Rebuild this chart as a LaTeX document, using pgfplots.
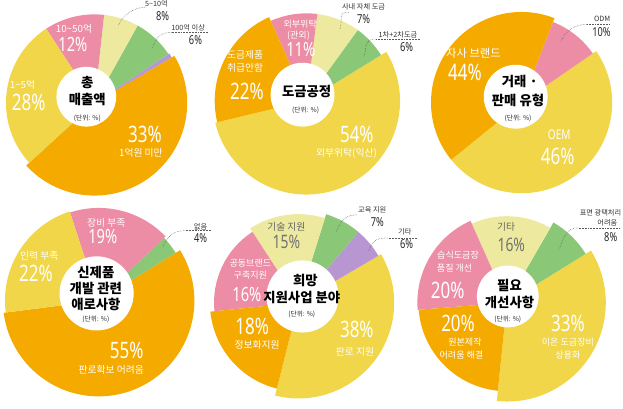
\documentclass[border=0pt]{standalone}
\usepackage{pgfplots}
\pgfplotsset{compat=1.18}
\usepackage{fontspec}
\setmainfont{Noto Sans CJK KR}
\newfontfamily\pf{Noto Sans}[FakeStretch=0.75]
\definecolor{cOr}{RGB}{245,170,0}
\definecolor{cYe}{RGB}{240,214,72}
\definecolor{cPk}{RGB}{236,140,165}
\definecolor{cLy}{RGB}{237,234,160}
\definecolor{cGr}{RGB}{138,200,120}
\definecolor{cPu}{RGB}{183,150,210}
% segment: center x, center y, start angle, end angle, radius, colour
\newcommand{\seg}[6]{\fill[#6] (axis cs:#1,#2) -- ++(#3:#5pt) arc[start angle=#3, end angle=#4, radius=#5pt] -- cycle;}
\newcommand{\hole}[3]{\fill[white] (axis cs:#1,#2) circle[radius=#3pt];}
\newcommand{\lead}[4]{\draw[densely dotted, black!65, line width=0.5pt] (axis cs:#1,#2) .. controls (axis cs:#1-12,#2) and (axis cs:#3+4,#4-10) .. (axis cs:#3,#4);}
\newcommand{\uline}[3]{\draw[densely dotted, black!65, line width=0.5pt] (axis cs:#1,#3) -- (axis cs:#2,#3);}
\begin{document}
\begin{tikzpicture}[
  wl/.style={text=white, inner sep=0pt, font=\fontsize{9.5}{10}\selectfont},
  wm/.style={text=white, inner sep=0pt, font=\fontsize{8.8}{9}\selectfont},
  dl/.style={text=black!80, inner sep=0pt, font=\fontsize{7}{8}\selectfont},
  gl/.style={text=black!60, inner sep=0pt, font=\fontsize{9.5}{10}\selectfont},
  bp/.style={text=white, inner sep=0pt, font=\pf\fontsize{22}{22}\selectfont},
  mp/.style={text=white, inner sep=0pt, font=\pf\fontsize{19}{19}\selectfont},
  gp/.style={text=black!55, inner sep=0pt, font=\pf\fontsize{18}{18}\selectfont},
  sp/.style={text=black!85, inner sep=0pt, font=\pf\bfseries\fontsize{12}{12}\selectfont},
  ct/.style={text=black, inner sep=0pt, font=\bfseries\fontsize{13}{15}\selectfont},
  un/.style={text=black!85, inner sep=0pt, font=\fontsize{6.5}{7}\selectfont}]
\begin{axis}[width=623pt, height=399pt, scale only axis, xmin=0, xmax=623, ymin=0, ymax=399,
  y dir=reverse, hide axis, clip=false]
% ---------- Chart 1: 총 매출액 ----------
\seg{107}{108}{-137.5}{30.5}{90}{cOr}
\seg{107}{108}{30.5}{33.5}{87}{cPu}
\seg{107}{108}{33.5}{60.9}{86}{cGr}
\seg{107}{108}{60.9}{83.8}{86}{cLy}
\seg{107}{108}{83.8}{123.1}{86}{cPk}
\seg{107}{108}{123.1}{222.5}{86}{cYe}
\hole{99}{102}{29}
\node[ct] at (axis cs:100,88) {총};
\node[ct] at (axis cs:100,105) {매출액};
\node[un] at (axis cs:100,123) {(단위: \%)};
\node[wl] at (axis cs:37,90) {1\textasciitilde5억};
\node[bp] at (axis cs:43,108) {28\%};
\node[wl] at (axis cs:87,36) {10\textasciitilde50억};
\node[mp] at (axis cs:86,51) {12\%};
\node[dl] at (axis cs:167,12) {5\textasciitilde10억};
\node[sp] at (axis cs:173,23.5) {8\%};
\lead{157}{15}{130}{33}
\node[dl] at (axis cs:198,35) {100억 이상};
\node[sp] at (axis cs:205,47) {6\%};
\uline{217}{182}{39.5}
\lead{182}{39.5}{163}{55}
\node[bp] at (axis cs:156,138.5) {33\%};
\node[wl] at (axis cs:152,156.5) {1억원 미만};
% ---------- Chart 2: 도금공정 ----------
\seg{312.7}{106}{-166.5}{31.5}{91}{cYe}
\seg{312.7}{106}{31.5}{54.1}{85}{cGr}
\seg{312.7}{106}{54.1}{82.8}{85}{cLy}
\seg{312.7}{106}{82.8}{114}{85}{cPk}
\seg{312.7}{106}{114}{193.5}{89}{cOr}
\hole{309}{100}{31}
\node[ct] at (axis cs:313,97) {도금공정};
\node[un] at (axis cs:312,115) {(단위: \%)};
\node[wm] at (axis cs:306.7,31.2) {외부위탁};
\node[wm] at (axis cs:305,42.3) {(관외)};
\node[mp] at (axis cs:307.3,56) {11\%};
\node[wl] at (axis cs:253.3,61.7) {도금제품};
\node[wl] at (axis cs:253.3,74) {취급안함};
\node[bp] at (axis cs:255,96.7) {22\%};
\node[dl] at (axis cs:368.3,15) {사내 자체 도금};
\node[sp] at (axis cs:368.3,27) {7\%};
\lead{354}{20}{345}{37}
\node[dl] at (axis cs:401.7,41.7) {1차+2차도금};
\node[sp] at (axis cs:410,53.5) {6\%};
\uline{423}{380}{46}
\lead{380}{46}{368.3}{63.3}
\node[bp] at (axis cs:361.7,139) {54\%};
\node[wl] at (axis cs:351.7,157) {외부위탁(익산)};
% ---------- Chart 3: 거래 판매 유형 ----------
\seg{521.7}{107.7}{-140.9}{34.6}{88}{cYe}
\seg{521.7}{107.7}{34.6}{68.7}{84}{cPk}
\seg{521.7}{107.7}{68.7}{219.1}{88}{cOr}
\hole{516}{102}{31}
\node[ct] at (axis cs:520,87) {거래 ·};
\node[ct] at (axis cs:518.3,106) {판매 유형};
\node[un] at (axis cs:518.3,123.3) {(단위: \%)};
\node[wl, font=\fontsize{11}{12}\selectfont] at (axis cs:475,60) {자사 브랜드};
\node[bp] at (axis cs:466.7,78) {44\%};
\node[dl] at (axis cs:600,26.7) {ODM};
\node[sp] at (axis cs:599.3,39.3) {10\%};
\uline{607}{585}{31.7}
\lead{585}{31.7}{560}{48.3}
\node[wl, font=\pf\fontsize{13}{13}\selectfont] at (axis cs:558.3,139.3) {OEM};
\node[bp] at (axis cs:556.7,160) {46\%};
% ---------- Chart 4: 신제품 개발 관련 애로사항 ----------
\seg{111}{300}{-172.7}{31.8}{93}{cOr}
\seg{111}{300}{31.8}{43.9}{88}{cGr}
\seg{111}{300}{43.9}{108}{90}{cPk}
\seg{111}{300}{108}{187.3}{91}{cYe}
\hole{109}{293}{36}
\node[ct] at (axis cs:108.3,272.3) {신제품};
\node[ct] at (axis cs:108.3,288.3) {개발 관련};
\node[ct] at (axis cs:108.3,303.8) {애로사항};
\node[un] at (axis cs:108.3,318.3) {(단위: \%)};
\node[wl] at (axis cs:118.3,224.5) {장비 부족};
\node[mp] at (axis cs:115,238) {19\%};
\node[wl] at (axis cs:53.3,256.7) {인력 부족};
\node[bp] at (axis cs:50,273.3) {22\%};
\node[dl] at (axis cs:210,228.3) {없음};
\node[sp] at (axis cs:210,239) {4\%};
\uline{220}{195}{232}
\lead{195}{232}{173.3}{248.3}
\node[bp] at (axis cs:138.3,348) {55\%};
\node[wl] at (axis cs:123.3,367) {판로확보 어려움};
% ---------- Chart 5: 희망 지원사업 분야 ----------
\seg{305}{302}{-104.1}{30.4}{93}{cYe}
\seg{305}{302}{30.4}{49.7}{90}{cPu}
\seg{305}{302}{49.7}{72.6}{90}{cGr}
\seg{305}{302}{72.6}{123}{86}{cLy}
\seg{305}{302}{123}{185.8}{82}{cPk}
\seg{305}{302}{185.8}{255.9}{86}{cOr}
\hole{309}{296}{35}
\node[ct] at (axis cs:311.7,280) {희망};
\node[ct] at (axis cs:308.3,296.7) {지원사업 분야};
\node[un] at (axis cs:308.3,313.3) {(단위: \%)};
\node[gl] at (axis cs:293.3,228) {기술 지원};
\node[gp] at (axis cs:293.3,242.5) {15\%};
\node[wm] at (axis cs:258.3,263.3) {공동브랜드};
\node[wm] at (axis cs:258.3,275) {구축지원};
\node[mp] at (axis cs:255,294) {16\%};
\node[dl] at (axis cs:376.7,211.7) {교육 지원};
\node[sp] at (axis cs:381.7,223.5) {7\%};
\lead{361.7}{216.7}{341.7}{233.3}
\node[dl] at (axis cs:408.3,233.3) {기타};
\node[sp] at (axis cs:410,245) {6\%};
\uline{420}{391.7}{239.3}
\lead{391.7}{239.3}{373.3}{251.7}
\node[bp] at (axis cs:260,325) {18\%};
\node[wl] at (axis cs:265,343) {정보화지원};
\node[bp] at (axis cs:361.7,327.5) {38\%};
\node[wl] at (axis cs:360,350) {판로 지원};
% ---------- Chart 6: 필요 개선사항 ----------
\seg{507.5}{302}{-95.9}{31.8}{96}{cYe}
\seg{507.5}{302}{31.8}{59.9}{90}{cGr}
\seg{507.5}{302}{59.9}{114}{84}{cLy}
\seg{507.5}{302}{114}{184.6}{87}{cPk}
\seg{507.5}{302}{184.6}{264.1}{86}{cOr}
\hole{508.3}{296}{30}
\node[ct] at (axis cs:510,285) {필요};
\node[ct] at (axis cs:510,301.7) {개선사항};
\node[un] at (axis cs:508.3,318.3) {(단위: \%)};
\node[gl] at (axis cs:506.7,228) {기타};
\node[gp] at (axis cs:511.7,245.5) {16\%};
\node[wm] at (axis cs:460,256.2) {습식도금장};
\node[wm] at (axis cs:456.7,268.3) {품질 개선};
\node[bp] at (axis cs:450,290) {20\%};
\node[dl] at (axis cs:598.3,215) {표면 광택처리};
\node[dl] at (axis cs:605,224) {어려움};
\node[sp] at (axis cs:608.3,238.3) {8\%};
\uline{616.7}{576.7}{229.3}
\lead{576.7}{229.3}{558.3}{250}
\node[bp] at (axis cs:460,322.5) {20\%};
\node[wm] at (axis cs:466.7,340.5) {원본제작};
\node[wm] at (axis cs:463.3,352.5) {어려움 해결};
\node[bp] at (axis cs:566.7,322.5) {33\%};
\node[wm] at (axis cs:566.7,340.5) {이온 도금장비};
\node[wm] at (axis cs:566.7,352.5) {상용화};
\end{axis}
\end{tikzpicture}
\end{document}
